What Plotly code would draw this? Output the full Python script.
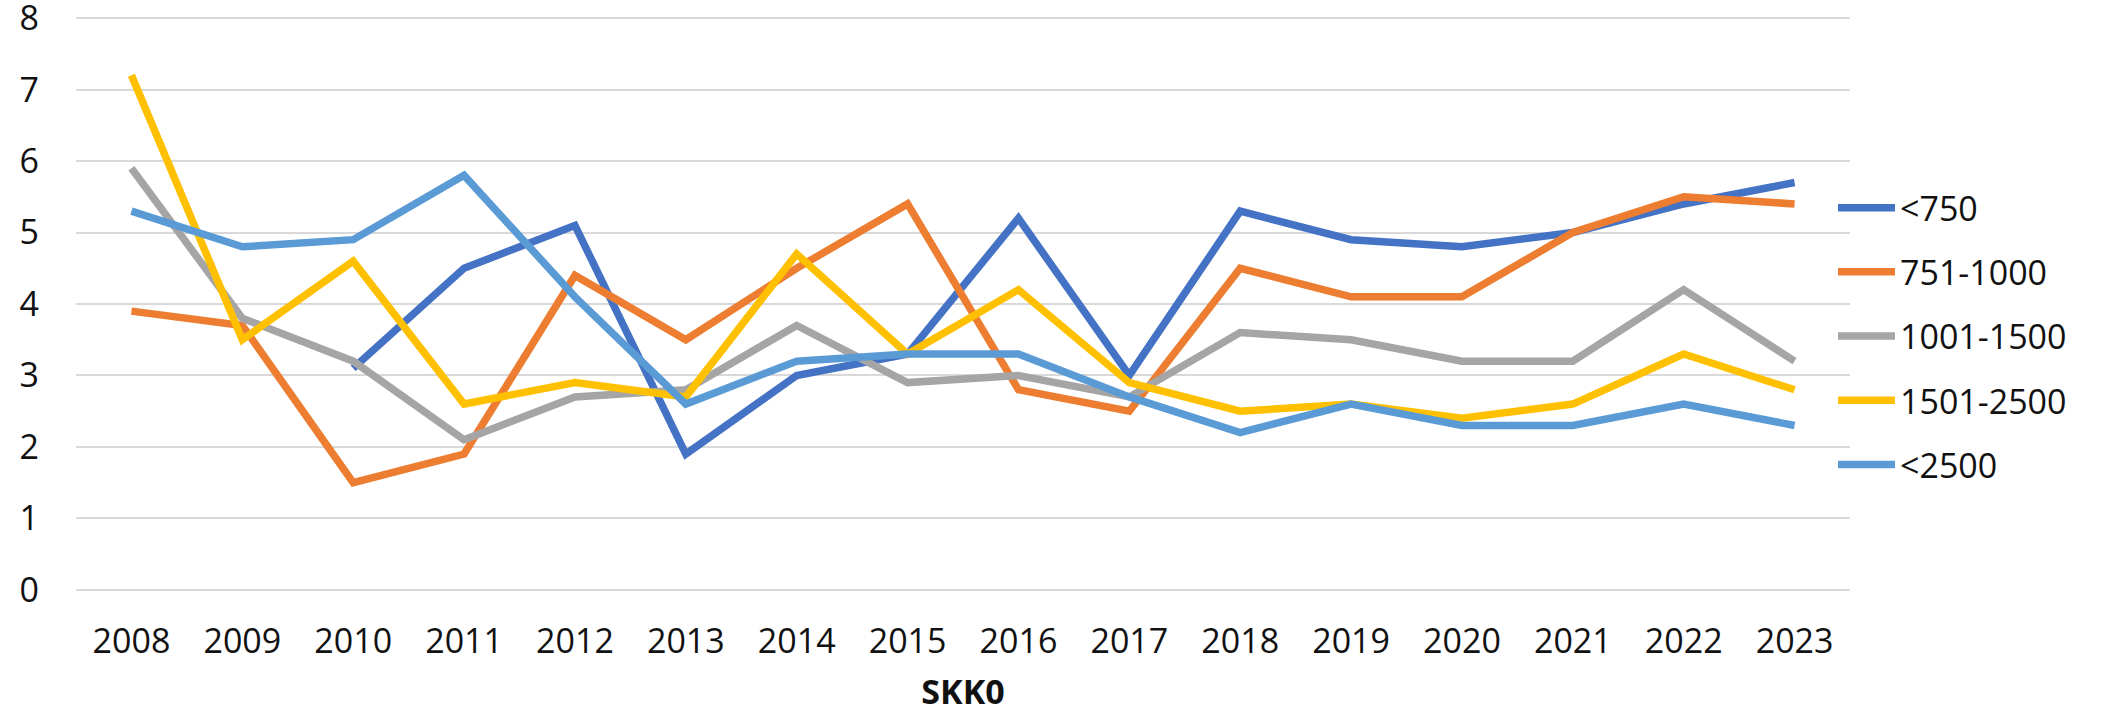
import plotly.graph_objects as go

years = [str(y) for y in range(2008, 2024)]

lt750 = [None, None, 3.1, 4.5, 5.1, 1.9, 3.0, 3.3, 5.2, 3.0, 5.3, 4.9, 4.8, 5.0, 5.4, 5.7]
r751_1000 = [3.9, 3.7, 1.5, 1.9, 4.4, 3.5, 4.5, 5.4, 2.8, 2.5, 4.5, 4.1, 4.1, 5.0, 5.5, 5.4]
r1001_1500 = [5.9, 3.8, 3.2, 2.1, 2.7, 2.8, 3.7, 2.9, 3.0, 2.7, 3.6, 3.5, 3.2, 3.2, 4.2, 3.2]
r1501_2500 = [7.2, 3.5, 4.6, 2.6, 2.9, 2.7, 4.7, 3.3, 4.2, 2.9, 2.5, 2.6, 2.4, 2.6, 3.3, 2.8]
lt2500 = [5.3, 4.8, 4.9, 5.8, 4.1, 2.6, 3.2, 3.3, 3.3, 2.7, 2.2, 2.6, 2.3, 2.3, 2.6, 2.3]

series_names = ["<750", "751-1000", "1001-1500", "1501-2500", "<2500"]
series_values = [lt750, r751_1000, r1001_1500, r1501_2500, lt2500]
colors = ["#4472C4", "#ED7D31", "#A5A5A5", "#FFC000", "#5B9BD5"]
y_ticks = [0, 1, 2, 3, 4, 5, 6, 7, 8]

fig = go.Figure()
for i, (name, vals, col) in enumerate(zip(series_names, series_values, colors)):
    fig.add_trace(go.Scatter(
        x=years, y=vals, name=name, mode="lines",
        line=dict(color=col, width=7.5),
        legendgroup=f"g{i}",
        connectgaps=False,
    ))

W, H = 2101, 715
unit = (590 - 18) / 8.0
pad_u = 0.03
ymin, ymax = -pad_u, 8 + pad_u
y_bottom = 590 + pad_u * unit
y_top = 18 - pad_u * unit
ml, mr = 76, 251
mb = H - y_bottom
mt = y_top
plot_h = y_bottom - y_top

fig.update_layout(
    width=W, height=H,
    margin=dict(l=ml, r=mr, t=mt, b=mb, pad=0, autoexpand=False),
    paper_bgcolor="white", plot_bgcolor="white",
    font=dict(family="Open Sans", size=34, color="#111111"),
    showlegend=True,
    legend=dict(
        x=(1833 - ml) / (W - ml - mr), xanchor="left",
        y=1 - (179 - mt) / plot_h, yanchor="top",
        font=dict(family="Open Sans", size=34, color="#111111"),
        tracegroupgap=17,
        itemwidth=57,
        bgcolor="rgba(0,0,0,0)",
    ),
    xaxis=dict(
        type="category", range=[-0.5, 15.5],
        showgrid=False, zeroline=False, showline=False,
        ticks="", tickfont=dict(size=34),
        ticklabelstandoff=26,
        automargin=False,
        title=dict(text="<b>SKK0</b>", font=dict(size=34), standoff=18),
    ),
    yaxis=dict(
        range=[ymin, ymax], tickvals=y_ticks,
        showgrid=True, gridcolor="#D9D9D9", gridwidth=1.5,
        zeroline=False, showline=False,
        ticks="", tickfont=dict(size=34),
        ticklabelstandoff=36,
        ticklabeloverflow="allow",
        automargin=False,
    ),
)

fig.write_html(
    "out.html",
    config={"displayModeBar": False},
    post_script="document.body.style.margin='0';document.body.style.overflow='hidden';",
)
